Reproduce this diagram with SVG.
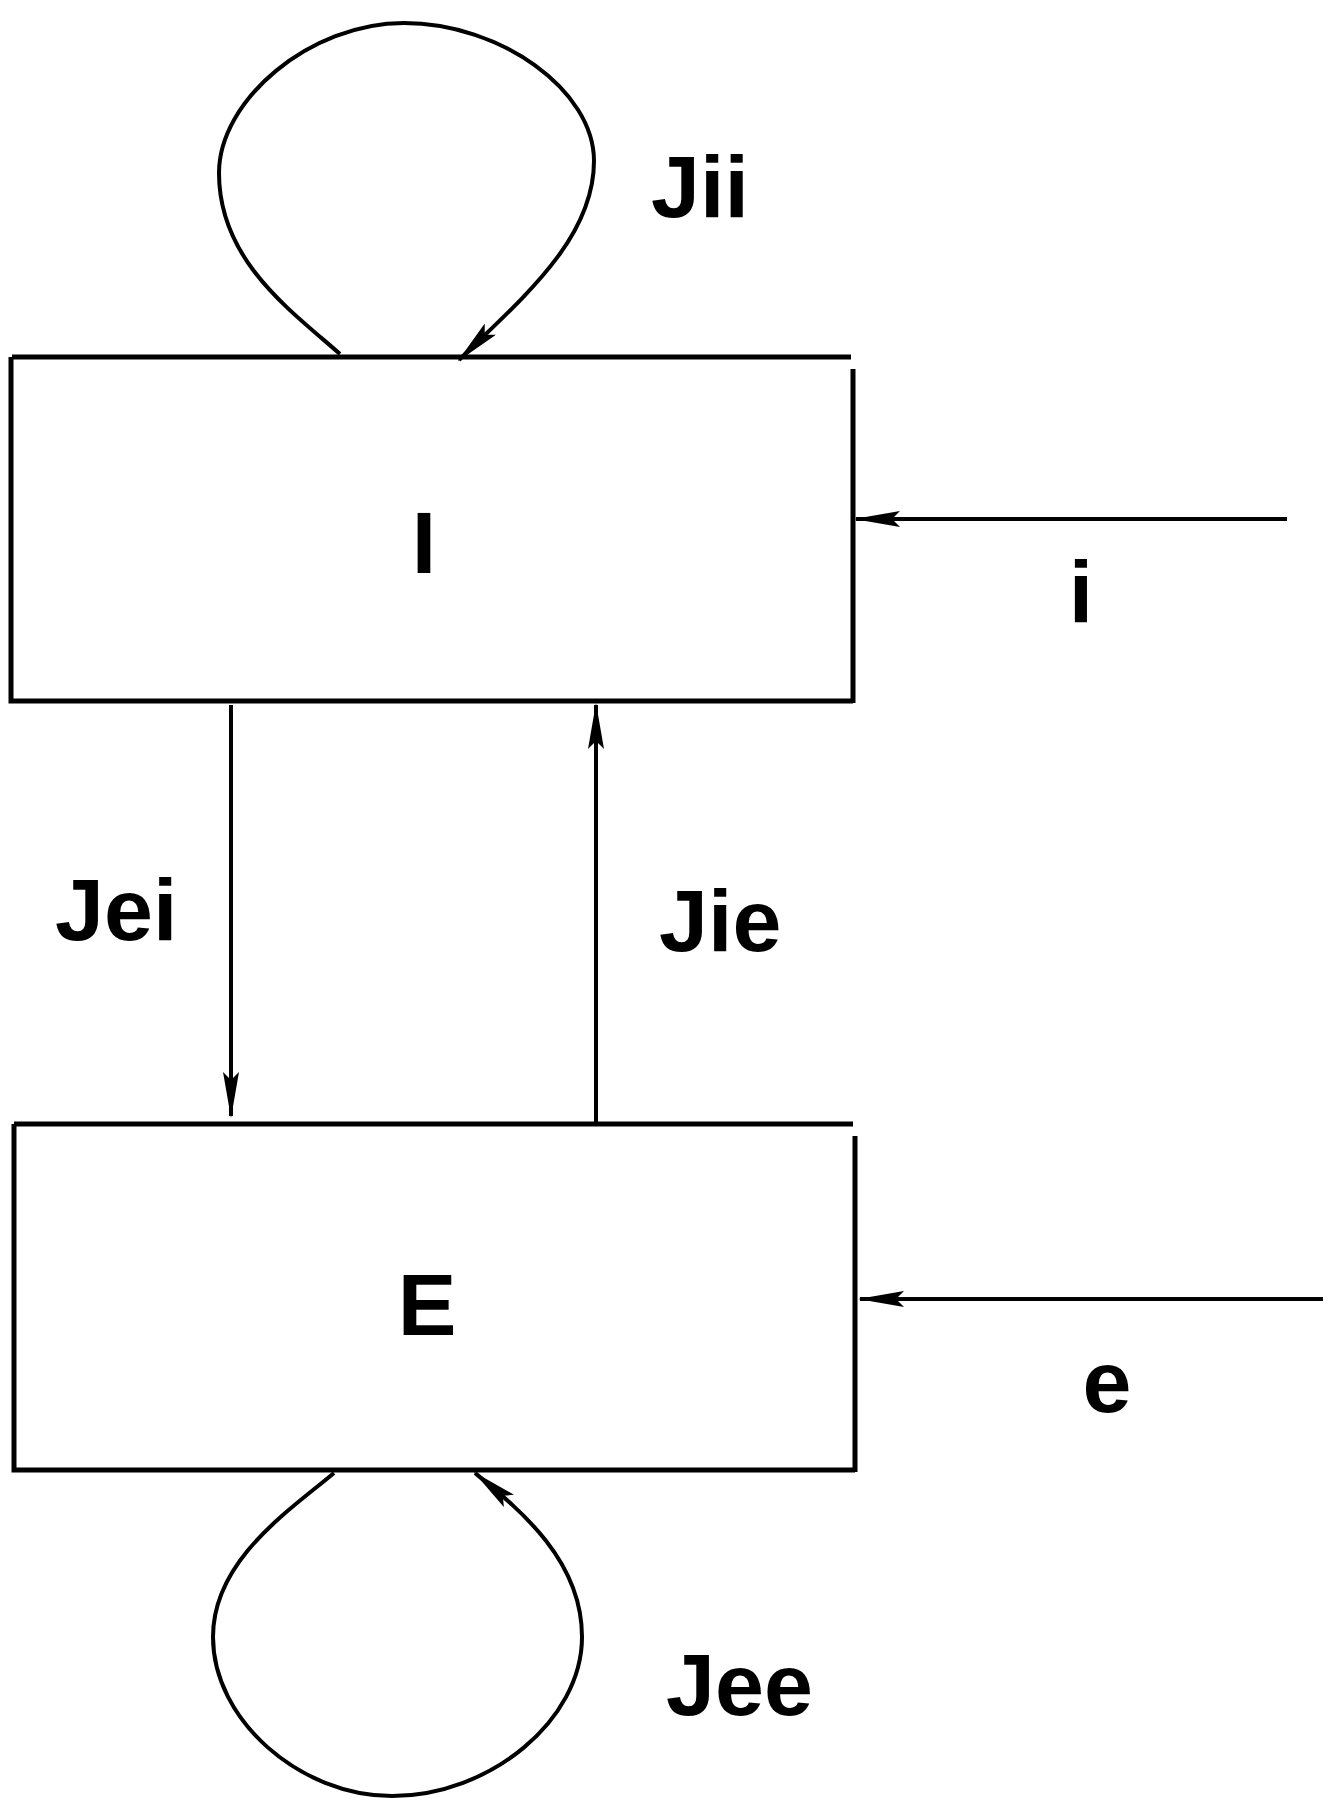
<svg xmlns="http://www.w3.org/2000/svg" width="1328" height="1800" viewBox="0 0 1328 1800">
<style>
.l{fill:none;stroke:#000;stroke-width:4}
.b{fill:none;stroke:#000;stroke-width:5}
text{font-family:"Liberation Sans",Arial,sans-serif;font-weight:bold;font-size:88px;fill:#000}
</style>
<defs><marker id="a" markerWidth="46" markerHeight="16" refX="44" refY="8" orient="auto" markerUnits="userSpaceOnUse"><path d="M0,0 L46,8 L0,16 L8,8 Z" fill="#000"/></marker></defs>
<rect width="1328" height="1800" fill="#fff"/>
<g id="nodeI"><path class="b" d="M12,357 H851 M853,369 V703 M11,357 V701 H853"/><text x="424" y="573" text-anchor="middle" font-size="92">I</text></g>
<g id="nodeE"><path class="b" d="M14,1124 H853 M855,1136 V1472 M14,1124 V1470 H855"/><text x="427" y="1335" text-anchor="middle">E</text></g>
<g id="connectors">
<path class="l" d="M340,354 C290,310 219,260 219,173 C219,100 310,23 404,23 C500,23 594,90 594,161 C594,240 520,300 459,360" marker-end="url(#a)"/>
<path class="l" d="M334,1473 C290,1510 213,1560 213,1637 C213,1720 300,1796 392,1796 C490,1796 582,1720 582,1637 C582,1560 520,1510 475,1473" marker-end="url(#a)"/>
<path class="l" d="M231,705 V1116" marker-end="url(#a)"/>
<path class="l" d="M596,1124 V705" marker-end="url(#a)"/>
<path class="l" d="M1287,519 H856" marker-end="url(#a)"/>
<path class="l" d="M1323,1299 H860" marker-end="url(#a)"/>
</g>
<g id="labels">
<text x="651" y="217">Jii</text>
<text x="1081" y="622" text-anchor="middle">i</text>
<text x="55" y="940">Jei</text>
<text x="659" y="951">Jie</text>
<text x="1107" y="1412" text-anchor="middle">e</text>
<text x="666" y="1715">Jee</text>
</g>
</svg>
